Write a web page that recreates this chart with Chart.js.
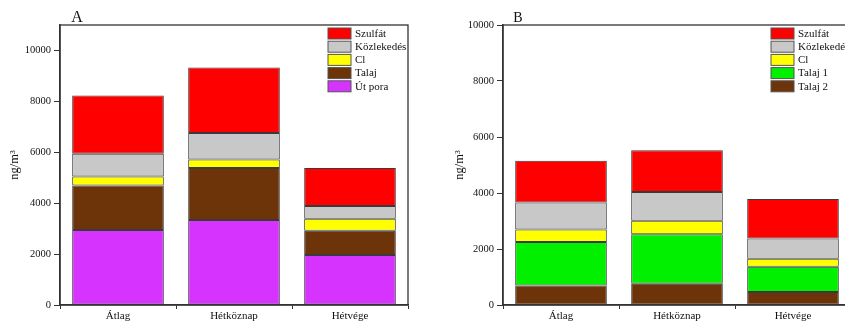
<!DOCTYPE html>
<html>
<head>
<meta charset="utf-8">
<script src="https://cdn.jsdelivr.net/npm/chart.js@4/dist/chart.umd.min.js"></script>
<style>
  html, body { margin: 0; padding: 0; background: #fff; overflow: hidden; }
  #wrap { position: relative; width: 845px; height: 322px; overflow: hidden; }
  #boxA { position: absolute; left: 0; top: 0; width: 420px; height: 322px; }
  #boxB { position: absolute; left: 420px; top: 0; width: 440px; height: 322px; }
</style>
</head>
<body>
<div id="wrap">
  <div id="boxA"><canvas id="cA" width="420" height="322"></canvas></div>
  <div id="boxB"><canvas id="cB" width="440" height="322"></canvas></div>
</div>
<script>
// ---- data ----
const categories = ['Átlag', 'Hétköznap', 'Hétvége'];
const yTitle = 'ng/m³';

// Chart A (bottom to top)
const labelsA = ['Út pora', 'Talaj', 'Cl', 'Közlekedés', 'Szulfát'];
const utPoraA = [2950, 3340, 1960];
const talajA = [1740, 2040, 960];
const clA = [360, 340, 470];
const kozlekedesA = [895, 1035, 500];
const szulfatA = [2285, 2580, 1490];
const ticksA = [0, 2000, 4000, 6000, 8000, 10000];

// Chart B (bottom to top)
const labelsB = ['Talaj 2', 'Talaj 1', 'Cl', 'Közlekedés', 'Szulfát'];
const talaj2B = [700, 760, 465];
const talaj1B = [1550, 1770, 900];
const clB = [450, 475, 285];
const kozlekedesB = [960, 1035, 725];
const szulfatB = [1490, 1490, 1415];
const ticksB = [0, 2000, 4000, 6000, 8000, 10000];

const colorsA = ['#D633FF', '#6E3409', '#FFFF00', '#C8C8C8', '#FF0000'];
const colorsB = ['#6E3409', '#00F000', '#FFFF00', '#C8C8C8', '#FF0000'];

const FONT = "'Liberation Serif', 'Times New Roman', serif";

function framePlugin(letter, letterSize, letterX, titleX) {
  return {
    id: 'frame' + letter,
    afterDraw(chart) {
      const ctx = chart.ctx, a = chart.chartArea;
      ctx.save();
      // frame
      ctx.strokeStyle = '#333';
      ctx.lineWidth = 1.3;
      ctx.strokeRect(a.left, a.top, a.right - a.left, a.bottom - a.top);
      // panel letter
      ctx.fillStyle = '#111';
      ctx.font = letterSize + 'px ' + FONT;
      ctx.textAlign = 'center';
      ctx.textBaseline = 'alphabetic';
      ctx.fillText(letter, letterX, 22);
      // y axis title
      ctx.save();
      ctx.translate(titleX, (a.top + a.bottom) / 2);
      ctx.rotate(-Math.PI / 2);
      ctx.font = '12.5px ' + FONT;
      ctx.textAlign = 'center';
      ctx.textBaseline = 'middle';
      ctx.fillText(yTitle, 0, 0);
      ctx.restore();
      // legend (top right inside plot), reversed order
      const ds = chart.data.datasets.slice().reverse();
      const bx = a.right - 80, by = a.top + 3, step = 13.2;
      ctx.font = '11px ' + FONT;
      ctx.textAlign = 'left';
      ctx.textBaseline = 'middle';
      ds.forEach((d, i) => {
        const y = by + i * step;
        ctx.fillStyle = d.backgroundColor;
        ctx.fillRect(bx, y, 23, 11);
        ctx.strokeStyle = '#555';
        ctx.lineWidth = 1;
        ctx.strokeRect(bx, y, 23, 11);
        ctx.fillStyle = '#111';
        ctx.fillText(d.label, bx + 27, y + 6);
      });
      ctx.restore();
    }
  };
}

function makeChart(id, labels, series, colors, tickVals, yMax, yWidth, titleX, padRight, letter, letterSize, letterX) {
  const datasets = labels.map((l, i) => ({
    label: l,
    data: series[i],
    backgroundColor: colors[i],
    borderColor: '#3a3a3a',
    borderWidth: 1,
    borderSkipped: false,
    categoryPercentage: 1.0,
    barPercentage: 0.79
  }));
  return new Chart(document.getElementById(id), {
    type: 'bar',
    data: { labels: categories, datasets },
    options: {
      responsive: false,
      animation: false,
      events: [],
      layout: { padding: { top: 25, right: padRight, left: 0, bottom: 0 } },
      plugins: { legend: { display: false }, tooltip: { enabled: false } },
      scales: {
        x: {
          stacked: true,
          grid: { display: true, drawOnChartArea: false, tickLength: 4, color: '#333', tickWidth: 1 },
          border: { display: true, color: '#333', width: 1.5 },
          ticks: { color: '#111', font: { family: FONT, size: 11 }, padding: 1, maxRotation: 0 },
          afterFit(s) { s.height = 17; }
        },
        y: {
          stacked: true,
          min: 0,
          max: yMax,
          afterBuildTicks(s) { s.ticks = tickVals.map(v => ({ value: v })); },
          grid: { display: true, drawOnChartArea: false, tickLength: 6, color: '#333', tickWidth: 1 },
          border: { display: true, color: '#333', width: 1.5 },
          ticks: { color: '#111', font: { family: FONT, size: 10.5 }, padding: 3, callback: v => String(v) },
          title: { display: false },
          afterFit(s) { s.width = yWidth; }
        }
      }
    },
    plugins: [framePlugin(letter, letterSize, letterX, titleX)]
  });
}

makeChart('cA', labelsA, [utPoraA, talajA, clA, kozlekedesA, szulfatA], colorsA, ticksA, 11000, 60, 15, 12, 'A', 16, 77);
makeChart('cB', labelsB, [talaj2B, talaj1B, clB, kozlekedesB, szulfatB], colorsB, ticksB, 10000, 83, 40, 9, 'B', 14, 98);
</script>
</body>
</html>
